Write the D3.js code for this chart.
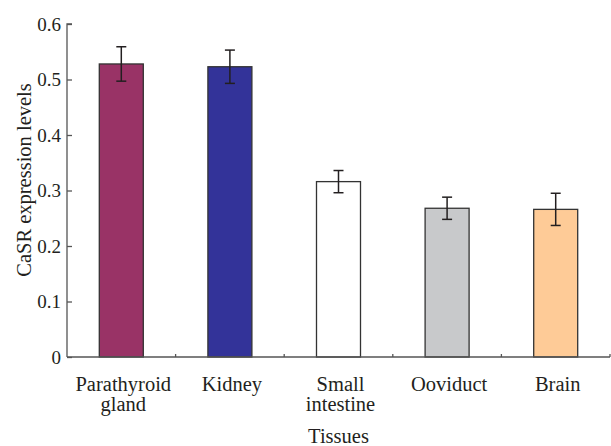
<!DOCTYPE html>
<html><head><meta charset="utf-8">
<script src="https://cdn.jsdelivr.net/npm/d3@7"></script>
</head><body style="margin:0;background:#fff"><div id="chart"></div>
<script>
const categories = [["Parathyroid","gland"],["Kidney"],["Small","intestine"],["Ooviduct"],["Brain"]];
const values = [0.528, 0.523, 0.316, 0.268, 0.266];
const errors = [0.031, 0.030, 0.020, 0.020, 0.029];
const colors = ["#993366", "#333399", "#ffffff", "#c8c9cb", "#fecb97"];
const yTicks = [0, 0.1, 0.2, 0.3, 0.4, 0.5, 0.6];
const yTickLabels = ["0", "0.1", "0.2", "0.3", "0.4", "0.5", "0.6"];

const W = 611, H = 446;
const m = {left: 67, right: 1, top: 24, bottom: 89};
const FONT = "Liberation Serif";
const svg = d3.select("#chart").append("svg").attr("width", W).attr("height", H)
  .attr("font-family", FONT).style("display", "block");
const xb = d3.scaleBand().domain(d3.range(categories.length)).range([m.left, W - m.right]);
const y = d3.scaleLinear().domain([0, 0.6]).range([H - m.bottom, m.top]);
const axisColor = "#555";
const textColor = "#231f20";

// bars
svg.selectAll("rect.bar").data(values).enter().append("rect")
  .attr("x", (d, i) => xb(i) + xb.bandwidth() / 2 - 22)
  .attr("width", 44)
  .attr("y", d => y(d)).attr("height", d => y(0) - y(d))
  .attr("fill", (d, i) => colors[i]).attr("stroke", "#333").attr("stroke-width", 1.3);

// error bars
const eg = svg.append("g").attr("stroke", "#231f20").attr("stroke-width", 1.5);
values.forEach((v, i) => {
  const cx = xb(i) + xb.bandwidth() / 2;
  eg.append("line").attr("x1", cx).attr("x2", cx).attr("y1", y(v + errors[i])).attr("y2", y(v - errors[i]));
  eg.append("line").attr("x1", cx - 5).attr("x2", cx + 5).attr("y1", y(v + errors[i])).attr("y2", y(v + errors[i]));
  eg.append("line").attr("x1", cx - 5).attr("x2", cx + 5).attr("y1", y(v - errors[i])).attr("y2", y(v - errors[i]));
});

// y axis
const ya = svg.append("g").attr("transform", `translate(${m.left},0)`)
  .call(d3.axisRight(y).tickValues(yTicks).tickSize(5).tickFormat(() => ""));
ya.select(".domain").attr("stroke", axisColor).attr("stroke-width", 1.3).attr("d", `M5,${y(0.6)}H0V${y(0)}`);
ya.selectAll(".tick line").attr("stroke", axisColor).attr("stroke-width", 1.3);
svg.append("g").selectAll("text").data(yTicks).enter().append("text")
  .attr("x", m.left - 6).attr("y", d => y(d)).attr("dy", "0.35em").attr("text-anchor", "end")
  .attr("font-family", FONT).attr("font-size", 19).attr("fill", textColor).text((d, i) => yTickLabels[i]);

// x axis
const xa = svg.append("g").attr("transform", `translate(0,${y(0)})`);
xa.append("line").attr("x1", m.left).attr("x2", W - m.right).attr("stroke", axisColor).attr("stroke-width", 1.3);
d3.range(1, categories.length + 1).forEach(i => {
  const tx = m.left + i * xb.step();
  xa.append("line").attr("x1", tx).attr("x2", tx).attr("y1", 0).attr("y2", -3).attr("stroke", axisColor).attr("stroke-width", 1.3);
});
categories.forEach((lines, i) => {
  const cx = xb(i) + xb.bandwidth() / 2 + 2;
  const t = svg.append("text").attr("text-anchor", "middle").attr("font-family", FONT).attr("font-size", 20.5)
    .attr("fill", textColor).attr("x", cx).attr("y", 391);
  lines.forEach((l, j) => t.append("tspan").attr("x", cx).attr("dy", j ? 20 : 0).text(l));
});

// titles
svg.append("text").attr("x", (m.left + W - m.right) / 2).attr("y", 443).attr("text-anchor", "middle")
  .attr("font-family", FONT).attr("font-size", 20.5).attr("fill", textColor).text("Tissues");
svg.append("text").attr("transform", `translate(31,180) rotate(-90)`).attr("text-anchor", "middle")
  .attr("font-family", FONT).attr("font-size", 20.5).attr("fill", textColor).text("CaSR expression levels");
</script></body></html>
